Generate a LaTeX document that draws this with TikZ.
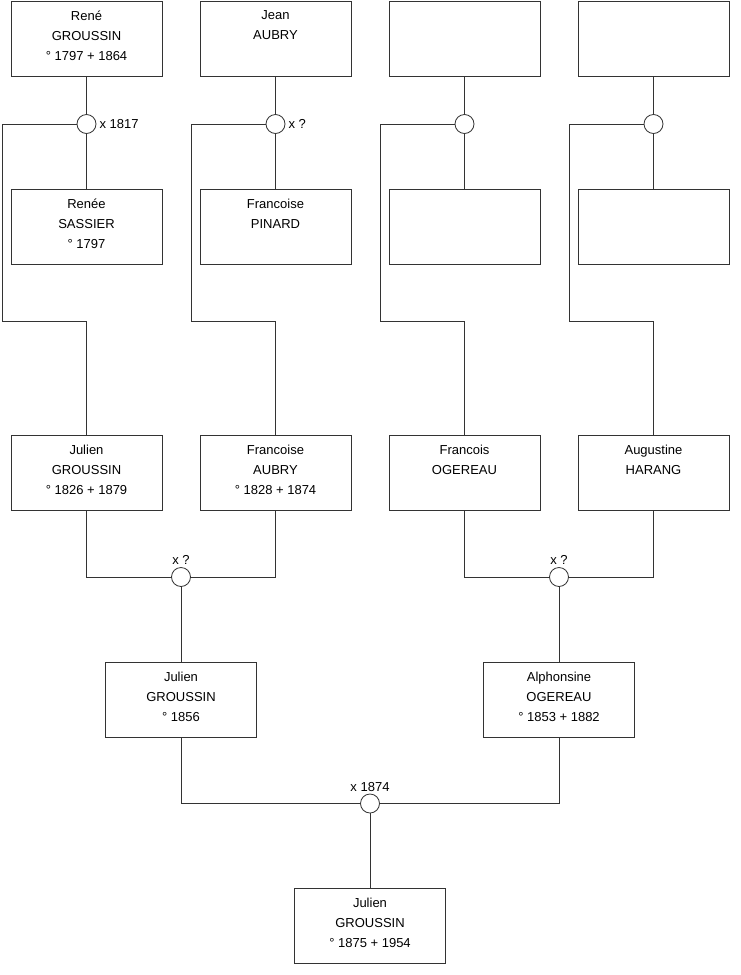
\documentclass[tikz,border=0pt]{standalone}
\usepackage{fontspec}
\setmainfont{Liberation Sans}
\usetikzlibrary{positioning}
\tikzset{
  person/.style={draw=black!80,line width=0.8pt,minimum width=151pt,minimum height=75pt,inner sep=0pt},
  who/.style={align=center,inner sep=0pt,font=\fontsize{13}{20}\selectfont,execute at begin node=\strut},
  couple/.style={circle,draw=black!80,line width=0.8pt,fill=white,minimum size=19pt,inner sep=0pt},
  wed/.style={font=\fontsize{13}{16}\selectfont,inner sep=1pt},
  link/.style={draw=black!80,line width=0.8pt}}
\begin{document}
\begin{tikzpicture}[x=1pt,y=-1pt]
  \useasboundingbox (0,0) rectangle (740,975);
  % top row: the fathers of the grandparents' parents
  \node[person] (rene) at (86.5,38.5) {};
  \node[who,below=10pt of rene.north] (rene-t) {René\\GROUSSIN\\° 1797 + 1864};
  \node[person] (jean) at (275.5,38.5) {};
  \node[who,below=10pt of jean.north] (jean-t) {Jean\\AUBRY};
  \node[person] (ogfather) at (464.5,38.5) {};
  \node[person] (hafather) at (653.5,38.5) {};
  % marriages of the top row
  \node[couple] (m1) at (86.5,124) {};
  \node[wed,right=2pt of m1] (m1-t) {x 1817};
  \node[couple] (m2) at (275.5,124) {};
  \node[wed,right=2pt of m2] (m2-t) {x ?};
  \node[couple] (m3) at (464.5,124) {};
  \node[couple] (m4) at (653.5,124) {};
  % the mothers
  \node[person] (renee) at (86.5,227) {};
  \node[who,below=10pt of renee.north] (renee-t) {Renée\\SASSIER\\° 1797};
  \node[person] (pinard) at (275.5,227) {};
  \node[who,below=10pt of pinard.north] (pinard-t) {Francoise\\PINARD};
  \node[person] (ogmother) at (464.5,227) {};
  \node[person] (hamother) at (653.5,227) {};
  \foreach \f/\m/\w in {rene/m1/renee,jean/m2/pinard,ogfather/m3/ogmother,hafather/m4/hamother}
    \draw[link] (\f) -- (\m) -- (\w);
  % grandparents
  \node[person] (julien1) at (86.5,472.5) {};
  \node[who,below=10pt of julien1.north] (julien1-t) {Julien\\GROUSSIN\\° 1826 + 1879};
  \node[person] (aubry) at (275.5,472.5) {};
  \node[who,below=10pt of aubry.north] (aubry-t) {Francoise\\AUBRY\\° 1828 + 1874};
  \node[person] (francois) at (464.5,472.5) {};
  \node[who,below=10pt of francois.north] (francois-t) {Francois\\OGEREAU};
  \node[person] (harang) at (653.5,472.5) {};
  \node[who,below=10pt of harang.north] (harang-t) {Augustine\\HARANG};
  \foreach \m/\c in {m1/julien1,m2/aubry,m3/francois,m4/harang}
    \draw[link] (\m.west) -- ++(-74.5,0) -- ++(0,197) -| (\c.north);
  % parents
  \node[couple] (m5) at (181,577) {};
  \node[wed,above=1pt of m5] (m5-t) {x ?};
  \node[couple] (m6) at (559,577) {};
  \node[wed,above=1pt of m6] (m6-t) {x ?};
  \draw[link] (julien1.south) |- (m5.west);
  \draw[link] (aubry.south) |- (m5.east);
  \draw[link] (francois.south) |- (m6.west);
  \draw[link] (harang.south) |- (m6.east);
  \node[person] (julien2) at (181,700) {};
  \node[who,below=10pt of julien2.north] (julien2-t) {Julien\\GROUSSIN\\° 1856};
  \node[person] (alphonsine) at (559,700) {};
  \node[who,below=10pt of alphonsine.north] (alphonsine-t) {Alphonsine\\OGEREAU\\° 1853 + 1882};
  \draw[link] (m5) -- (julien2);
  \draw[link] (m6) -- (alphonsine);
  % the child
  \node[couple] (m7) at (370,803.5) {};
  \node[wed,above=1pt of m7] (m7-t) {x 1874};
  \draw[link] (julien2.south) |- (m7.west);
  \draw[link] (alphonsine.south) |- (m7.east);
  \node[person] (julien3) at (370,926) {};
  \node[who,below=10pt of julien3.north] (julien3-t) {Julien\\GROUSSIN\\° 1875 + 1954};
  \draw[link] (m7) -- (julien3);
\end{tikzpicture}
\end{document}
